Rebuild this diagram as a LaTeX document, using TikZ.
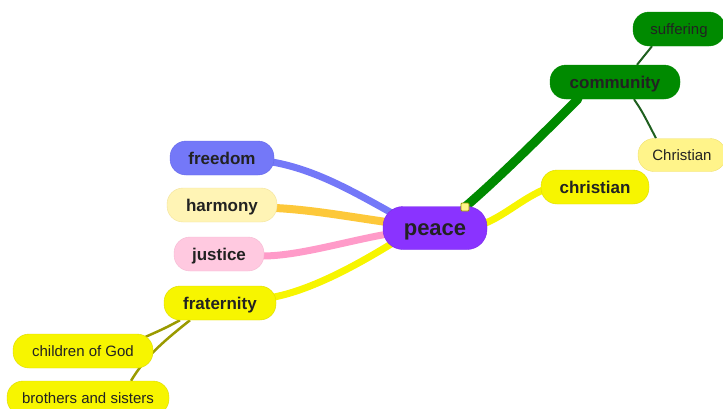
\documentclass[tikz,border=0pt]{standalone}
\usepackage{fontspec}
\setmainfont{Liberation Sans}
\usetikzlibrary{calc}
\pgfdeclarelayer{bg}
\pgfsetlayers{bg,main}
\definecolor{txt}{HTML}{222222}
\definecolor{purp}{HTML}{8A33FF}
\definecolor{purpd}{HTML}{7A28E8}
\definecolor{grn}{HTML}{008A00}
\definecolor{grnd}{HTML}{1F5F1F}
\definecolor{blu}{HTML}{7478F8}
\definecolor{blud}{HTML}{6468E8}
\definecolor{yel}{HTML}{F7F500}
\definecolor{yeld}{HTML}{DCDA00}
\definecolor{lyel}{HTML}{FFF48A}
\definecolor{lyeld}{HTML}{F0E070}
\definecolor{harm}{HTML}{FFF4B5}
\definecolor{harmd}{HTML}{F2E29A}
\definecolor{pnk}{HTML}{FFC9E0}
\definecolor{pnkd}{HTML}{F5B8D2}
\definecolor{orng}{HTML}{FDC83A}
\definecolor{pnkl}{HTML}{FF9BC9}
\definecolor{oliv}{HTML}{9A9A00}
\tikzset{
  pill/.style={rounded corners=16pt, minimum height=34pt, inner sep=0pt, text=txt, text depth=0pt},
  topic/.style={pill, font=\bfseries\fontsize{17}{17}\selectfont, text height=12pt},
  leaf/.style={pill, font=\fontsize{15}{15}\selectfont, text height=11pt},
  branch/.style={line cap=round},
}
\begin{document}
\begin{tikzpicture}[x=1pt,y=-1pt]
\useasboundingbox (0,0) rectangle (723,408);
% nodes
\node[pill, font=\bfseries\fontsize{22}{22}\selectfont, text height=14pt, rounded corners=20pt, minimum height=43pt, minimum width=104pt, fill=purp, draw=purpd] (peace) at (435,228) {peace};
\node[topic, minimum width=130pt, fill=grn, draw=grn] (community) at (615,82) {community};
\node[leaf, minimum width=92pt, fill=grn, draw=grn] (suffering) at (679,29) {suffering};
\node[leaf, minimum width=88pt, minimum height=33pt, fill=lyel, draw=lyeld] (Christian2) at (682,155) {Christian};
\node[topic, minimum width=108pt, fill=yel, draw=yeld] (christian) at (595,187) {christian};
\node[topic, minimum width=104pt, fill=blu, draw=blud] (freedom) at (222,158) {freedom};
\node[topic, minimum width=110pt, fill=harm, draw=harmd] (harmony) at (222,205) {harmony};
\node[topic, minimum width=90pt, fill=pnk, draw=pnkd] (justice) at (219,254) {justice};
\node[topic, minimum width=112pt, fill=yel, draw=yeld] (fraternity) at (220,303) {fraternity};
\node[leaf, minimum width=140pt, fill=yel, draw=yeld] (children) at (83,351) {children of God};
\node[leaf, minimum width=162pt, fill=yel, draw=yeld] (brothers) at (88,398) {brothers and sisters};
\node[draw=oliv, fill=lyel, minimum size=8pt, inner sep=0pt, rounded corners=1pt, line width=0.8pt] (handle) at (465,207) {};
% connectors
\begin{pgfonlayer}{bg}
\draw[branch, blu, line width=7pt] ($(freedom.east)+(-2,4)$) .. controls +(45,8) and +(-45,-25) .. ($(peace.west)+(18,-10)$);
\draw[branch, orng, line width=8pt] ($(harmony.east)+(-2,3)$) .. controls +(40,2) and +(-45,-6) .. ($(peace.west)+(18,-4)$);
\draw[branch, pnkl, line width=7pt] ($(justice.east)+(-2,2)$) .. controls +(40,0) and +(-45,6) .. ($(peace.west)+(18,4)$);
\draw[branch, yel, line width=7pt] ($(fraternity.east)+(-2,-6)$) .. controls +(40,-8) and +(-40,25) .. ($(peace.west)+(18,10)$);
\draw[branch, yel, line width=7pt] ($(peace.east)+(-18,0)$) .. controls +(30,-5) and +(-30,10) .. ($(christian.west)+(10,0)$);
\draw[branch, grn, line width=9pt] (handle.center) .. controls +(35,-30) and +(-30,30) .. ($(community.south west)+(28,0)$);
\draw[grnd, line width=2pt] ($(community.north)+(22,0)$) -- ($(suffering.south)+(-27,0)$);
\draw[grnd, line width=2pt] ($(community.south)+(19,0)$) .. controls +(8,12) .. ($(Christian2.north)+(-26,0)$);
\draw[oliv, line width=2.5pt] ($(fraternity.south)+(-40,0)$) .. controls +(-15,8) .. ($(children.east)+(-8,-14)$);
\draw[oliv, line width=2.5pt] ($(fraternity.south)+(-30,0)$) .. controls +(-25,20) and +(15,-25) .. ($(brothers.north)+(43,0)$);
\end{pgfonlayer}
\end{tikzpicture}
\end{document}
